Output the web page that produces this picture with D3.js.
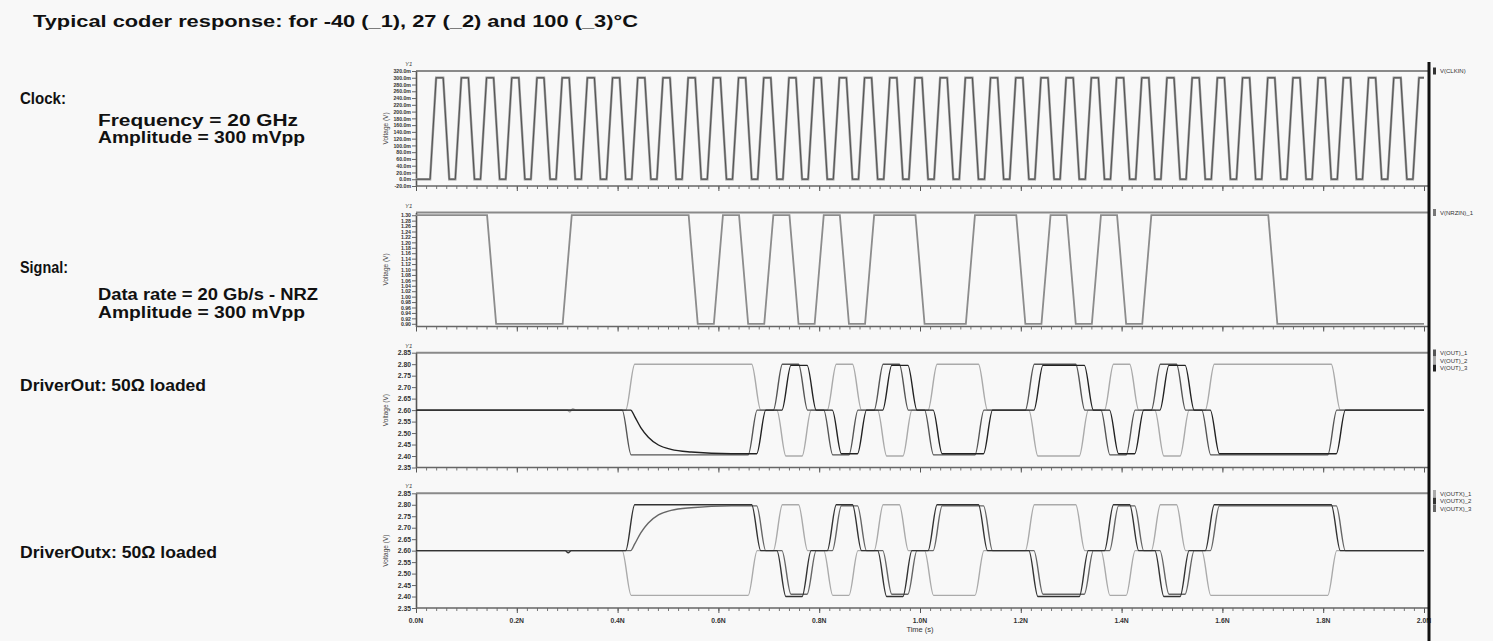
<!DOCTYPE html>
<html><head><meta charset="utf-8">
<script src="https://cdn.jsdelivr.net/npm/d3@7"></script>
<style>
html,body{margin:0;padding:0;background:#f8f8f8;}
svg{display:block;}
</style></head><body>
<svg id="c" width="1493" height="641"></svg>
<script>
// ---------------- DATA ----------------
const titleText = "Typical coder response: for -40 (_1), 27 (_2) and 100 (_3)\u00b0C";
const timeTicks = [0, 0.2, 0.4, 0.6, 0.8, 1.0, 1.2, 1.4, 1.6, 1.8, 2.0];
const timeTickLabels = ["0.0N","0.2N","0.4N","0.6N","0.8N","1.0N","1.2N","1.4N","1.6N","1.8N","2.0N"];

// clock (ns): [rise start, high reached, fall start, low reached] per cycle
const clockEdges = [
 [0.028,0.040,0.054,0.066],[0.078,0.090,0.104,0.116],[0.128,0.140,0.154,0.166],[0.178,0.190,0.204,0.216],
 [0.228,0.240,0.254,0.266],[0.278,0.290,0.304,0.316],[0.328,0.340,0.354,0.366],[0.378,0.390,0.404,0.416],
 [0.428,0.440,0.454,0.466],[0.478,0.490,0.504,0.516],[0.528,0.540,0.554,0.566],[0.578,0.590,0.604,0.616],
 [0.628,0.640,0.654,0.666],[0.678,0.690,0.704,0.716],[0.728,0.740,0.754,0.766],[0.778,0.790,0.804,0.816],
 [0.828,0.840,0.854,0.866],[0.878,0.890,0.904,0.916],[0.928,0.940,0.954,0.966],[0.978,0.990,1.004,1.016],
 [1.028,1.040,1.054,1.066],[1.078,1.090,1.104,1.116],[1.128,1.140,1.154,1.166],[1.178,1.190,1.204,1.216],
 [1.228,1.240,1.254,1.266],[1.278,1.290,1.304,1.316],[1.328,1.340,1.354,1.366],[1.378,1.390,1.404,1.416],
 [1.428,1.440,1.454,1.466],[1.478,1.490,1.504,1.516],[1.528,1.540,1.554,1.566],[1.578,1.590,1.604,1.616],
 [1.628,1.640,1.654,1.666],[1.678,1.690,1.704,1.716],[1.728,1.740,1.754,1.766],[1.778,1.790,1.804,1.816],
 [1.828,1.840,1.854,1.866],[1.878,1.890,1.904,1.916],[1.928,1.940,1.954,1.966],[1.978,1.990,2.004,2.016]
];
const clockLevels = [0, 300];          // mV
const clockTicks = [-20,0,20,40,60,80,100,120,140,160,180,200,220,240,260,280,300,320];

// NRZ input, one value per 50 ps bit
const signalBits = [1,1,1,0,0,0,1,1,1,1,1,0,1,0,1,0,1,0,1,1,0,0,1,1,0,1,0,1,0,1,1,1,1,1,0,0,0,0,0,0];
const signalLevels = [0.90, 1.30];
const signalTicks = [0.90,0.92,0.94,0.96,0.98,1.00,1.02,1.04,1.06,1.08,1.10,1.12,1.14,1.16,1.18,1.20,1.22,1.24,1.26,1.28,1.30];

// coder output symbols per bit (+1 high, 0 mid, -1 low)
const outSymbols = [0,0,0,0,0,0,1,1,1,1,1,0,-1,0,1,0,-1,0,1,1,0,0,-1,-1,0,1,0,-1,0,1,1,1,1,1,0,0,0,0,0,0];
const outNames = ["V(OUT)_1","V(OUT)_2","V(OUT)_3"];
const outPolarity = [-1, 1, -1];
const outxNames = ["V(OUTX)_1","V(OUTX)_2","V(OUTX)_3"];
const outxPolarity = [-1, 1, 1];
const outDelay = [0.118, 0.125, 0.135];       // ns, per temperature
const outLow = [2.405, 2.400, 2.410];
const outMid = [2.600, 2.600, 2.600];
const outHigh = [2.800, 2.800, 2.795];
const slowEdge = [[0,0],[0.008,0.15],[0.02,0.4],[0.035,0.62],[0.055,0.8],[0.08,0.9],[0.12,0.96],[0.2,1]];
const outGlitch = [[0.300,2.600],[0.305,2.592],[0.311,2.606],[0.317,2.600]];
const outxGlitch = [[0.296,2.600],[0.302,2.591],[0.308,2.600]];
const voltTicks = [2.35,2.40,2.45,2.50,2.55,2.60,2.65,2.70,2.75,2.80,2.85];

// ---------------- DRAW ----------------
const svg = d3.select("#c");
svg.append("rect").attr("width",1493).attr("height",641).attr("fill","#f8f8f8");
const x = d3.scaleLinear().domain([0,2]).range([416,1424]);
const X0 = 416, XR = 1428;

svg.append("defs").append("clipPath").attr("id","clip")
  .append("rect").attr("x",X0).attr("y",0).attr("width",1424-X0).attr("height",641);

const FONT = "'Liberation Sans', Arial, sans-serif";
function label(t, px, py, size, w){
  svg.append("text").attr("x",px).attr("y",py).text(t)
    .attr("font-family",FONT).attr("font-weight","bold").attr("font-size",size)
    .attr("fill","#111").attr("textLength",w).attr("lengthAdjust","spacingAndGlyphs");
}
label(titleText, 33, 27, 17, 605);
label("Clock:", 20, 104, 16, 46);
label("Frequency = 20 GHz", 98, 126, 16, 200);
label("Amplitude = 300 mVpp", 98, 143, 16, 207);
label("Signal:", 20, 273, 16, 48);
label("Data rate = 20 Gb/s - NRZ", 98, 300, 16, 220);
label("Amplitude = 300 mVpp", 98, 318, 16, 207);
label("DriverOut: 50\u03a9 loaded", 20, 391, 16, 186);
label("DriverOutx: 50\u03a9 loaded", 20, 558, 16, 197);

const panels = [
  {top:71, bottom:186, domain:[-20,320], ticks:clockTicks, fmt:d=>d.toFixed(1)+"m", fs:5.2},
  {top:212.5, bottom:326.5, domain:[0.89,1.31], ticks:signalTicks, fmt:d=>d.toFixed(2), fs:5.2},
  {top:352.7, bottom:467.5, domain:[2.35,2.85], ticks:voltTicks, fmt:d=>d.toFixed(2), fs:6.8},
  {top:493.3, bottom:608, domain:[2.35,2.85], ticks:voltTicks, fmt:d=>d.toFixed(2), fs:6.8}
];
panels.forEach((p,i)=>{
  p.y = d3.scaleLinear().domain(p.domain).range([p.bottom,p.top]);
  // top border
  svg.append("line").attr("x1",X0).attr("x2",XR).attr("y1",p.top).attr("y2",p.top)
     .attr("stroke","#8a8a8a").attr("stroke-width",2);
  // y axis
  const ga = svg.append("g").attr("transform",`translate(${X0},0)`)
     .call(d3.axisLeft(p.y).tickValues(p.ticks).tickSize(4).tickSizeOuter(0).tickFormat(p.fmt));
  ga.select(".domain").attr("stroke","#555").attr("stroke-width",1.6);
  ga.selectAll(".tick line").attr("stroke","#666");
  ga.selectAll(".tick text").attr("font-family",FONT).attr("font-weight","bold")
    .attr("font-size",p.fs).attr("fill","#333").attr("x",-5);
  // x axis
  const gx = svg.append("g").attr("transform",`translate(0,${p.bottom})`)
     .call(d3.axisBottom(x).tickValues(d3.range(0,101).map(k=>k*0.02)).tickSize(3).tickSizeOuter(0).tickFormat(""));
  gx.select(".domain").remove();
  gx.selectAll(".tick line").attr("stroke","#777");
  const gx2 = svg.append("g").attr("transform",`translate(0,${p.bottom})`)
     .call(d3.axisBottom(x).tickValues(timeTicks).tickSize(5).tickSizeOuter(0).tickFormat(""));
  gx2.select(".domain").remove();
  gx2.selectAll(".tick line").attr("stroke","#555");
  svg.append("line").attr("x1",X0).attr("x2",XR).attr("y1",p.bottom).attr("y2",p.bottom)
     .attr("stroke","#666").attr("stroke-width",1.6);
  // Y1 and axis title
  svg.append("text").attr("x",405).attr("y",p.top-5).text("Y1")
     .attr("font-family",FONT).attr("font-style","italic").attr("font-size",6).attr("fill","#444");
  svg.append("text").attr("transform",`translate(388,${(p.top+p.bottom)/2}) rotate(-90)`)
     .attr("text-anchor","middle").text("Voltage (V)")
     .attr("font-family",FONT).attr("font-size",6.5).attr("fill","#444");
});

// bottom time labels
svg.append("g").selectAll("text").data(timeTicks).join("text")
  .attr("x",(d)=>x(d)).attr("y",623).attr("text-anchor","middle")
  .text((d,i)=>timeTickLabels[i]).attr("font-family",FONT).attr("font-weight","bold")
  .attr("font-size",6.8).attr("fill","#333");
svg.append("text").attr("x",x(1.0)).attr("y",632).attr("text-anchor","middle").text("Time (s)")
  .attr("font-family",FONT).attr("font-size",7.5).attr("fill","#333");

const plot = svg.append("g").attr("clip-path","url(#clip)");

// clock
{
  const p = panels[0];
  const pts = [[0, clockLevels[0]]];
  clockEdges.forEach(e=>{
    pts.push([e[0],clockLevels[0]],[e[1],clockLevels[1]],[e[2],clockLevels[1]],[e[3],clockLevels[0]]);
  });
  const line = d3.line().x(d=>x(d[0])).y(d=>p.y(d[1]));
  plot.append("path").attr("d",line(pts)).attr("fill","none").attr("stroke","#9a9a9a").attr("stroke-width",2.4);
  plot.append("path").attr("d",line(pts)).attr("fill","none").attr("stroke","#4a4a4a").attr("stroke-width",0.9);
}
// signal
{
  const p = panels[1];
  const lev = b => signalLevels[b];
  const pts = [[0, lev(signalBits[0])]];
  for(let k=1;k<signalBits.length;k++){
    if(signalBits[k]!==signalBits[k-1]){
      const t = 0.05*k;
      pts.push([t-0.009, lev(signalBits[k-1])],[t+0.009, lev(signalBits[k])]);
    }
  }
  pts.push([2.0, lev(signalBits[signalBits.length-1])]);
  const line = d3.line().x(d=>x(d[0])).y(d=>p.y(d[1]));
  plot.append("path").attr("d",line(pts)).attr("fill","none").attr("stroke","#8c8c8c").attr("stroke-width",1.8);
}
// outputs
function outPoints(pol, i, slow, glitch){
  const val = s => s>0 ? outHigh[i] : (s<0 ? outLow[i] : outMid[i]);
  const tr = 0.018;
  let pts = [[0, outMid[i]]];
  if(glitch) glitch.forEach(g=>pts.push([g[0],g[1]]));
  let first = true;
  for(let k=1;k<outSymbols.length;k++){
    const s = pol*outSymbols[k], q = pol*outSymbols[k-1];
    if(s!==q){
      const t = 0.05*k + outDelay[i];
      if(slow && first){
        slowEdge.forEach(e=>pts.push([t - tr/2 + e[0], val(q) + (val(s)-val(q))*e[1]]));
      } else {
        pts.push([t-tr/2, val(q)],[t+tr/2, val(s)]);
      }
      first = false;
    }
  }
  pts.push([2.05, val(pol*outSymbols[outSymbols.length-1])]);
  pts.sort((a,b)=>a[0]-b[0]);
  return pts;
}
function drawOut(p, polarity, colors, order, slowIdx, glitch){
  const line = d3.line().x(d=>x(d[0])).y(d=>p.y(d[1])).curve(d3.curveMonotoneX);
  order.forEach(i=>{
    plot.append("path").attr("d",line(outPoints(polarity[i], i, i===slowIdx, i===1?glitch:null)))
      .attr("fill","none").attr("stroke",colors[i]).attr("stroke-width",1.4);
  });
}
const outColors = ["#555555","#aaaaaa","#222222"];
const outxColors = ["#aaaaaa","#333333","#666666"];
drawOut(panels[2], outPolarity, outColors, [1,0,2], 2, outGlitch);
drawOut(panels[3], outxPolarity, outxColors, [0,2,1], 2, outxGlitch);

// right black separator
svg.append("line").attr("x1",1429).attr("x2",1429).attr("y1",62).attr("y2",641)
  .attr("stroke","#111").attr("stroke-width",3);

// legends
function legend(names, colors, y0){
  names.forEach((n,i)=>{
    const yy = y0 + i*7.5;
    svg.append("rect").attr("x",1433).attr("y",yy-3.5).attr("width",3).attr("height",7)
      .attr("fill",colors[i]);
    svg.append("text").attr("x",1440).attr("y",yy+2.2).text(n)
      .attr("font-family",FONT).attr("font-size",6).attr("fill","#333");
  });
}
legend(["V(CLKIN)"], ["#333"], 71);
legend(["V(NRZIN)_1"], ["#777"], 212.5);
legend(outNames, outColors, 353);
legend(outxNames, outxColors, 493.5);
</script>
</body></html>
